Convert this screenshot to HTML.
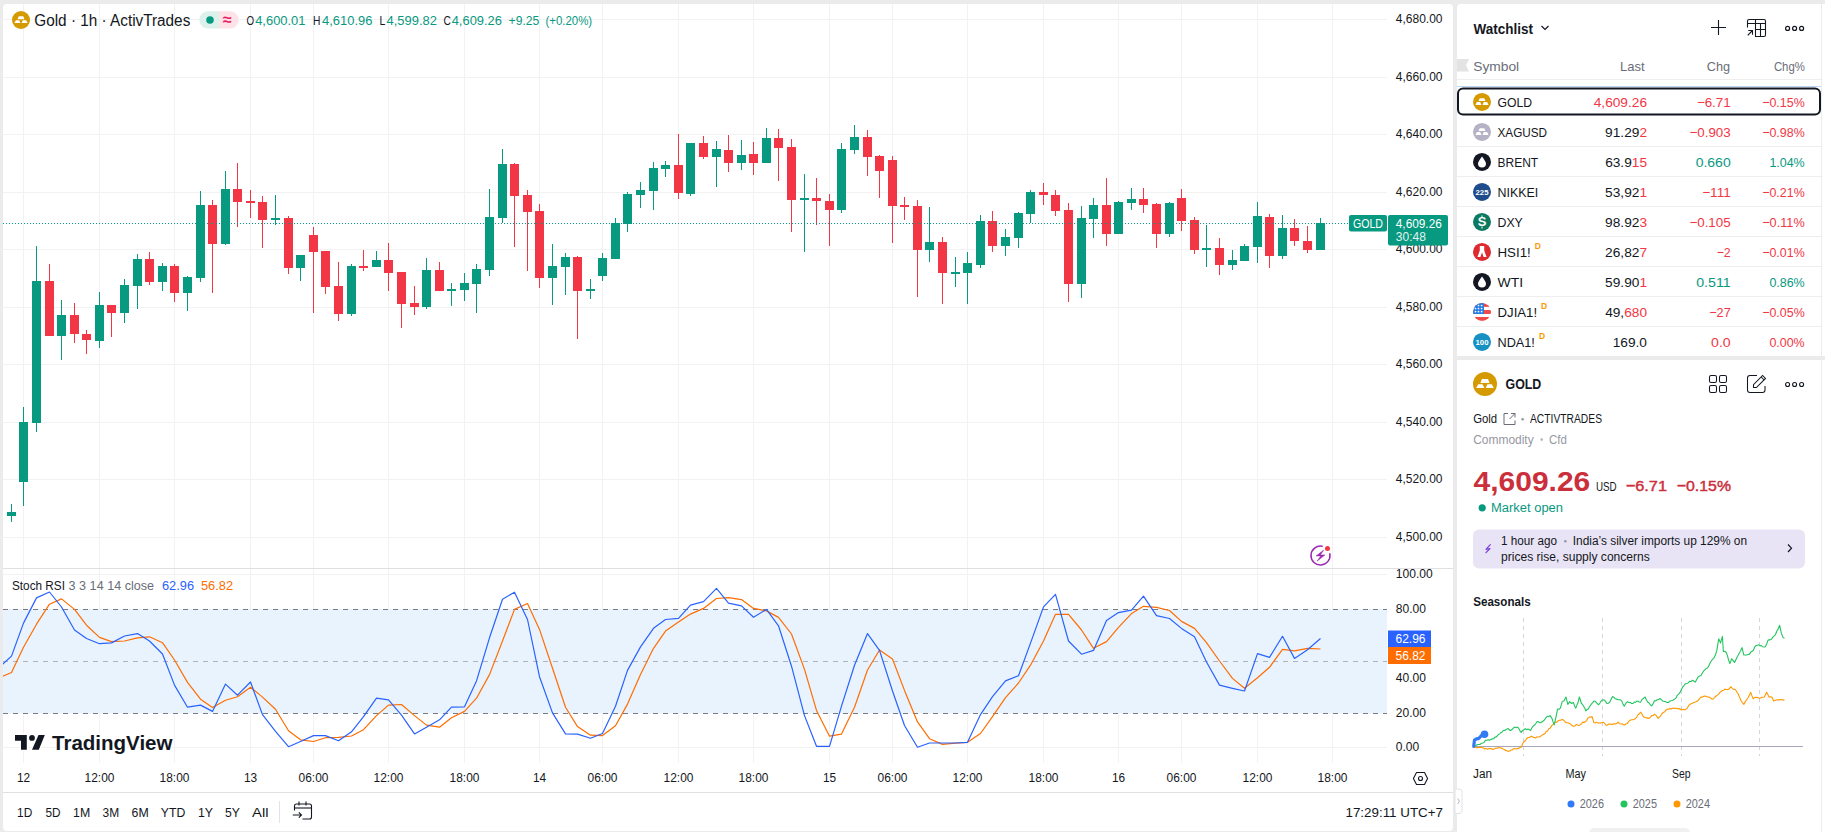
<!DOCTYPE html><html><head><meta charset="utf-8"><style>
html,body{margin:0;padding:0;}body{width:1825px;height:832px;overflow:hidden;background:#ebebeb;position:relative;font-family:"Liberation Sans", sans-serif;color:#131722}
.p{position:absolute;background:#fff}
svg{position:absolute;left:0;top:0}
text{font-family:"Liberation Sans", sans-serif}
</style></head><body>
<div class="p" style="left:3px;top:4px;width:1450px;height:827px;border-radius:4px"></div>
<div class="p" style="left:1457px;top:4px;width:368px;height:352px;border-radius:4px 0 0 0"></div>
<div class="p" style="left:1457px;top:360px;width:368px;height:480px"></div>
<svg width="1825" height="832" viewBox="0 0 1825 832">
<defs><clipPath id="cp"><rect x="3" y="4" width="1384" height="564"/></clipPath><clipPath id="cr"><rect x="3" y="569" width="1384" height="194"/></clipPath>
<symbol id="bars" viewBox="0 0 24 24"><path d="M9 7H15L16.6 10.9H7.4Z M5.2 12.2H9.6L11.3 16H3.2Z M14.4 12.2H18.8L20.8 16H12.7Z" fill="#fff"/></symbol>
</defs>
<line x1="23.5" y1="4" x2="23.5" y2="763" stroke="#f2f2f2" stroke-width="1"/>
<line x1="99.5" y1="4" x2="99.5" y2="763" stroke="#f2f2f2" stroke-width="1"/>
<line x1="174.5" y1="4" x2="174.5" y2="763" stroke="#f2f2f2" stroke-width="1"/>
<line x1="250.5" y1="4" x2="250.5" y2="763" stroke="#f2f2f2" stroke-width="1"/>
<line x1="313.5" y1="4" x2="313.5" y2="763" stroke="#f2f2f2" stroke-width="1"/>
<line x1="388.5" y1="4" x2="388.5" y2="763" stroke="#f2f2f2" stroke-width="1"/>
<line x1="464.5" y1="4" x2="464.5" y2="763" stroke="#f2f2f2" stroke-width="1"/>
<line x1="539.5" y1="4" x2="539.5" y2="763" stroke="#f2f2f2" stroke-width="1"/>
<line x1="602.5" y1="4" x2="602.5" y2="763" stroke="#f2f2f2" stroke-width="1"/>
<line x1="678.5" y1="4" x2="678.5" y2="763" stroke="#f2f2f2" stroke-width="1"/>
<line x1="753.5" y1="4" x2="753.5" y2="763" stroke="#f2f2f2" stroke-width="1"/>
<line x1="829.5" y1="4" x2="829.5" y2="763" stroke="#f2f2f2" stroke-width="1"/>
<line x1="892.5" y1="4" x2="892.5" y2="763" stroke="#f2f2f2" stroke-width="1"/>
<line x1="967.5" y1="4" x2="967.5" y2="763" stroke="#f2f2f2" stroke-width="1"/>
<line x1="1043.5" y1="4" x2="1043.5" y2="763" stroke="#f2f2f2" stroke-width="1"/>
<line x1="1118.5" y1="4" x2="1118.5" y2="763" stroke="#f2f2f2" stroke-width="1"/>
<line x1="1181.5" y1="4" x2="1181.5" y2="763" stroke="#f2f2f2" stroke-width="1"/>
<line x1="1257.5" y1="4" x2="1257.5" y2="763" stroke="#f2f2f2" stroke-width="1"/>
<line x1="1332.5" y1="4" x2="1332.5" y2="763" stroke="#f2f2f2" stroke-width="1"/>
<line x1="3" y1="19.5" x2="1387" y2="19.5" stroke="#f2f2f2"/>
<line x1="3" y1="77.5" x2="1387" y2="77.5" stroke="#f2f2f2"/>
<line x1="3" y1="134.5" x2="1387" y2="134.5" stroke="#f2f2f2"/>
<line x1="3" y1="192.5" x2="1387" y2="192.5" stroke="#f2f2f2"/>
<line x1="3" y1="249.5" x2="1387" y2="249.5" stroke="#f2f2f2"/>
<line x1="3" y1="307.5" x2="1387" y2="307.5" stroke="#f2f2f2"/>
<line x1="3" y1="364.5" x2="1387" y2="364.5" stroke="#f2f2f2"/>
<line x1="3" y1="422.5" x2="1387" y2="422.5" stroke="#f2f2f2"/>
<line x1="3" y1="479.5" x2="1387" y2="479.5" stroke="#f2f2f2"/>
<line x1="3" y1="537.5" x2="1387" y2="537.5" stroke="#f2f2f2"/>
<line x1="3" y1="574.5" x2="1387" y2="574.5" stroke="#f2f2f2"/>
<line x1="3" y1="644.5" x2="1387" y2="644.5" stroke="#f2f2f2"/>
<line x1="3" y1="678.5" x2="1387" y2="678.5" stroke="#f2f2f2"/>
<line x1="3" y1="747.5" x2="1387" y2="747.5" stroke="#f2f2f2"/>
<rect x="3" y="609" width="1384" height="104.5" fill="#e9f3fd"/>
<line x1="3" y1="609.5" x2="1387" y2="609.5" stroke="#787b86" stroke-dasharray="5 5"/>
<line x1="3" y1="713.5" x2="1387" y2="713.5" stroke="#787b86" stroke-dasharray="5 5"/>
<line x1="3" y1="661.5" x2="1387" y2="661.5" stroke="#b0b3bb" stroke-dasharray="5 5"/>
<line x1="3" y1="568.5" x2="1453" y2="568.5" stroke="#e0e0e0"/>
<line x1="3" y1="792.5" x2="1453" y2="792.5" stroke="#e0e0e0"/>
<g clip-path="url(#cp)">
<rect x="11" y="504" width="1" height="18" fill="#089981"/>
<rect x="7" y="512" width="9" height="4" fill="#089981"/>
<rect x="23" y="407" width="1" height="99" fill="#089981"/>
<rect x="19" y="422" width="9" height="60" fill="#089981"/>
<rect x="36" y="246" width="1" height="186" fill="#089981"/>
<rect x="32" y="281" width="9" height="142" fill="#089981"/>
<rect x="49" y="264" width="1" height="72" fill="#f23645"/>
<rect x="45" y="281" width="9" height="55" fill="#f23645"/>
<rect x="61" y="300" width="1" height="60" fill="#089981"/>
<rect x="57" y="315" width="9" height="21" fill="#089981"/>
<rect x="74" y="303" width="1" height="40" fill="#f23645"/>
<rect x="70" y="315" width="9" height="19" fill="#f23645"/>
<rect x="86" y="330" width="1" height="24" fill="#f23645"/>
<rect x="82" y="334" width="9" height="6" fill="#f23645"/>
<rect x="99" y="292" width="1" height="56" fill="#089981"/>
<rect x="95" y="305" width="9" height="36" fill="#089981"/>
<rect x="111" y="305" width="1" height="32" fill="#f23645"/>
<rect x="107" y="305" width="9" height="8" fill="#f23645"/>
<rect x="124" y="279" width="1" height="44" fill="#089981"/>
<rect x="120" y="285" width="9" height="28" fill="#089981"/>
<rect x="137" y="254" width="1" height="55" fill="#089981"/>
<rect x="133" y="259" width="9" height="27" fill="#089981"/>
<rect x="149" y="252" width="1" height="33" fill="#f23645"/>
<rect x="145" y="259" width="9" height="23" fill="#f23645"/>
<rect x="162" y="263" width="1" height="28" fill="#089981"/>
<rect x="158" y="266" width="9" height="16" fill="#089981"/>
<rect x="174" y="264" width="1" height="38" fill="#f23645"/>
<rect x="170" y="266" width="9" height="27" fill="#f23645"/>
<rect x="187" y="276" width="1" height="35" fill="#089981"/>
<rect x="183" y="277" width="9" height="16" fill="#089981"/>
<rect x="200" y="191" width="1" height="91" fill="#089981"/>
<rect x="196" y="205" width="9" height="73" fill="#089981"/>
<rect x="212" y="200" width="1" height="93" fill="#f23645"/>
<rect x="208" y="205" width="9" height="39" fill="#f23645"/>
<rect x="225" y="171" width="1" height="74" fill="#089981"/>
<rect x="221" y="189" width="9" height="55" fill="#089981"/>
<rect x="237" y="163" width="1" height="64" fill="#f23645"/>
<rect x="233" y="189" width="9" height="13" fill="#f23645"/>
<rect x="250" y="190" width="1" height="28" fill="#f23645"/>
<rect x="246" y="201" width="9" height="2" fill="#f23645"/>
<rect x="262" y="196" width="1" height="52" fill="#f23645"/>
<rect x="258" y="202" width="9" height="18" fill="#f23645"/>
<rect x="275" y="195" width="1" height="30" fill="#089981"/>
<rect x="271" y="218" width="9" height="2" fill="#089981"/>
<rect x="288" y="216" width="1" height="58" fill="#f23645"/>
<rect x="284" y="218" width="9" height="50" fill="#f23645"/>
<rect x="300" y="255" width="1" height="26" fill="#089981"/>
<rect x="296" y="255" width="9" height="13" fill="#089981"/>
<rect x="313" y="227" width="1" height="86" fill="#f23645"/>
<rect x="309" y="235" width="9" height="17" fill="#f23645"/>
<rect x="325" y="251" width="1" height="43" fill="#f23645"/>
<rect x="321" y="251" width="9" height="36" fill="#f23645"/>
<rect x="338" y="262" width="1" height="59" fill="#f23645"/>
<rect x="334" y="286" width="9" height="28" fill="#f23645"/>
<rect x="351" y="264" width="1" height="52" fill="#089981"/>
<rect x="347" y="266" width="9" height="48" fill="#089981"/>
<rect x="363" y="250" width="1" height="21" fill="#f23645"/>
<rect x="359" y="266" width="9" height="2" fill="#f23645"/>
<rect x="376" y="251" width="1" height="16" fill="#089981"/>
<rect x="372" y="260" width="9" height="7" fill="#089981"/>
<rect x="388" y="243" width="1" height="48" fill="#f23645"/>
<rect x="384" y="260" width="9" height="13" fill="#f23645"/>
<rect x="401" y="272" width="1" height="56" fill="#f23645"/>
<rect x="397" y="272" width="9" height="32" fill="#f23645"/>
<rect x="414" y="286" width="1" height="29" fill="#f23645"/>
<rect x="410" y="303" width="9" height="4" fill="#f23645"/>
<rect x="426" y="258" width="1" height="51" fill="#089981"/>
<rect x="422" y="270" width="9" height="37" fill="#089981"/>
<rect x="439" y="262" width="1" height="29" fill="#f23645"/>
<rect x="435" y="270" width="9" height="21" fill="#f23645"/>
<rect x="451" y="283" width="1" height="23" fill="#089981"/>
<rect x="447" y="289" width="9" height="2" fill="#089981"/>
<rect x="464" y="273" width="1" height="28" fill="#089981"/>
<rect x="460" y="283" width="9" height="7" fill="#089981"/>
<rect x="476" y="264" width="1" height="49" fill="#089981"/>
<rect x="472" y="269" width="9" height="15" fill="#089981"/>
<rect x="489" y="189" width="1" height="87" fill="#089981"/>
<rect x="485" y="217" width="9" height="53" fill="#089981"/>
<rect x="502" y="149" width="1" height="74" fill="#089981"/>
<rect x="498" y="164" width="9" height="54" fill="#089981"/>
<rect x="514" y="163" width="1" height="84" fill="#f23645"/>
<rect x="510" y="164" width="9" height="32" fill="#f23645"/>
<rect x="527" y="190" width="1" height="81" fill="#f23645"/>
<rect x="523" y="195" width="9" height="17" fill="#f23645"/>
<rect x="539" y="204" width="1" height="84" fill="#f23645"/>
<rect x="535" y="211" width="9" height="67" fill="#f23645"/>
<rect x="552" y="244" width="1" height="61" fill="#089981"/>
<rect x="548" y="266" width="9" height="12" fill="#089981"/>
<rect x="565" y="253" width="1" height="42" fill="#089981"/>
<rect x="561" y="257" width="9" height="10" fill="#089981"/>
<rect x="577" y="256" width="1" height="83" fill="#f23645"/>
<rect x="573" y="257" width="9" height="34" fill="#f23645"/>
<rect x="590" y="279" width="1" height="20" fill="#089981"/>
<rect x="586" y="289" width="9" height="2" fill="#089981"/>
<rect x="602" y="253" width="1" height="28" fill="#089981"/>
<rect x="598" y="258" width="9" height="18" fill="#089981"/>
<rect x="615" y="218" width="1" height="41" fill="#089981"/>
<rect x="611" y="223" width="9" height="36" fill="#089981"/>
<rect x="627" y="192" width="1" height="40" fill="#089981"/>
<rect x="623" y="194" width="9" height="30" fill="#089981"/>
<rect x="640" y="182" width="1" height="26" fill="#089981"/>
<rect x="636" y="190" width="9" height="5" fill="#089981"/>
<rect x="653" y="162" width="1" height="48" fill="#089981"/>
<rect x="649" y="168" width="9" height="23" fill="#089981"/>
<rect x="665" y="161" width="1" height="16" fill="#089981"/>
<rect x="661" y="165" width="9" height="4" fill="#089981"/>
<rect x="678" y="134" width="1" height="65" fill="#f23645"/>
<rect x="674" y="165" width="9" height="28" fill="#f23645"/>
<rect x="690" y="143" width="1" height="53" fill="#089981"/>
<rect x="686" y="143" width="9" height="51" fill="#089981"/>
<rect x="703" y="136" width="1" height="23" fill="#f23645"/>
<rect x="699" y="143" width="9" height="14" fill="#f23645"/>
<rect x="716" y="141" width="1" height="46" fill="#089981"/>
<rect x="712" y="149" width="9" height="8" fill="#089981"/>
<rect x="728" y="135" width="1" height="37" fill="#f23645"/>
<rect x="724" y="150" width="9" height="13" fill="#f23645"/>
<rect x="741" y="140" width="1" height="30" fill="#089981"/>
<rect x="737" y="155" width="9" height="8" fill="#089981"/>
<rect x="753" y="142" width="1" height="33" fill="#f23645"/>
<rect x="749" y="154" width="9" height="9" fill="#f23645"/>
<rect x="766" y="128" width="1" height="35" fill="#089981"/>
<rect x="762" y="138" width="9" height="25" fill="#089981"/>
<rect x="778" y="129" width="1" height="52" fill="#f23645"/>
<rect x="774" y="138" width="9" height="10" fill="#f23645"/>
<rect x="791" y="139" width="1" height="93" fill="#f23645"/>
<rect x="787" y="147" width="9" height="53" fill="#f23645"/>
<rect x="804" y="174" width="1" height="78" fill="#089981"/>
<rect x="800" y="198" width="9" height="2" fill="#089981"/>
<rect x="816" y="178" width="1" height="47" fill="#f23645"/>
<rect x="812" y="198" width="9" height="3" fill="#f23645"/>
<rect x="829" y="194" width="1" height="52" fill="#f23645"/>
<rect x="825" y="201" width="9" height="9" fill="#f23645"/>
<rect x="841" y="143" width="1" height="70" fill="#089981"/>
<rect x="837" y="149" width="9" height="61" fill="#089981"/>
<rect x="854" y="125" width="1" height="29" fill="#089981"/>
<rect x="850" y="137" width="9" height="13" fill="#089981"/>
<rect x="867" y="130" width="1" height="46" fill="#f23645"/>
<rect x="863" y="137" width="9" height="20" fill="#f23645"/>
<rect x="879" y="155" width="1" height="43" fill="#f23645"/>
<rect x="875" y="156" width="9" height="15" fill="#f23645"/>
<rect x="892" y="156" width="1" height="87" fill="#f23645"/>
<rect x="888" y="160" width="9" height="46" fill="#f23645"/>
<rect x="904" y="197" width="1" height="23" fill="#f23645"/>
<rect x="900" y="205" width="9" height="2" fill="#f23645"/>
<rect x="917" y="200" width="1" height="97" fill="#f23645"/>
<rect x="913" y="206" width="9" height="44" fill="#f23645"/>
<rect x="929" y="207" width="1" height="55" fill="#089981"/>
<rect x="925" y="242" width="9" height="8" fill="#089981"/>
<rect x="942" y="237" width="1" height="67" fill="#f23645"/>
<rect x="938" y="242" width="9" height="31" fill="#f23645"/>
<rect x="955" y="257" width="1" height="30" fill="#089981"/>
<rect x="951" y="272" width="9" height="2" fill="#089981"/>
<rect x="967" y="252" width="1" height="52" fill="#089981"/>
<rect x="963" y="263" width="9" height="10" fill="#089981"/>
<rect x="980" y="215" width="1" height="53" fill="#089981"/>
<rect x="976" y="221" width="9" height="44" fill="#089981"/>
<rect x="992" y="211" width="1" height="41" fill="#f23645"/>
<rect x="988" y="221" width="9" height="25" fill="#f23645"/>
<rect x="1005" y="229" width="1" height="27" fill="#089981"/>
<rect x="1001" y="237" width="9" height="9" fill="#089981"/>
<rect x="1018" y="212" width="1" height="36" fill="#089981"/>
<rect x="1014" y="213" width="9" height="25" fill="#089981"/>
<rect x="1030" y="190" width="1" height="33" fill="#089981"/>
<rect x="1026" y="192" width="9" height="22" fill="#089981"/>
<rect x="1043" y="183" width="1" height="22" fill="#f23645"/>
<rect x="1039" y="192" width="9" height="3" fill="#f23645"/>
<rect x="1055" y="190" width="1" height="26" fill="#f23645"/>
<rect x="1051" y="195" width="9" height="16" fill="#f23645"/>
<rect x="1068" y="203" width="1" height="99" fill="#f23645"/>
<rect x="1064" y="210" width="9" height="74" fill="#f23645"/>
<rect x="1081" y="206" width="1" height="92" fill="#089981"/>
<rect x="1077" y="218" width="9" height="66" fill="#089981"/>
<rect x="1093" y="198" width="1" height="40" fill="#089981"/>
<rect x="1089" y="205" width="9" height="14" fill="#089981"/>
<rect x="1106" y="178" width="1" height="68" fill="#f23645"/>
<rect x="1102" y="205" width="9" height="29" fill="#f23645"/>
<rect x="1118" y="201" width="1" height="33" fill="#089981"/>
<rect x="1114" y="202" width="9" height="32" fill="#089981"/>
<rect x="1131" y="188" width="1" height="22" fill="#089981"/>
<rect x="1127" y="199" width="9" height="4" fill="#089981"/>
<rect x="1143" y="188" width="1" height="25" fill="#f23645"/>
<rect x="1139" y="199" width="9" height="6" fill="#f23645"/>
<rect x="1156" y="203" width="1" height="45" fill="#f23645"/>
<rect x="1152" y="204" width="9" height="30" fill="#f23645"/>
<rect x="1169" y="202" width="1" height="35" fill="#089981"/>
<rect x="1165" y="203" width="9" height="31" fill="#089981"/>
<rect x="1181" y="189" width="1" height="42" fill="#f23645"/>
<rect x="1177" y="198" width="9" height="23" fill="#f23645"/>
<rect x="1194" y="217" width="1" height="37" fill="#f23645"/>
<rect x="1190" y="220" width="9" height="30" fill="#f23645"/>
<rect x="1206" y="225" width="1" height="42" fill="#089981"/>
<rect x="1202" y="248" width="9" height="2" fill="#089981"/>
<rect x="1219" y="238" width="1" height="37" fill="#f23645"/>
<rect x="1215" y="248" width="9" height="17" fill="#f23645"/>
<rect x="1232" y="250" width="1" height="20" fill="#089981"/>
<rect x="1228" y="260" width="9" height="5" fill="#089981"/>
<rect x="1244" y="244" width="1" height="17" fill="#089981"/>
<rect x="1240" y="246" width="9" height="15" fill="#089981"/>
<rect x="1257" y="202" width="1" height="61" fill="#089981"/>
<rect x="1253" y="216" width="9" height="31" fill="#089981"/>
<rect x="1269" y="214" width="1" height="54" fill="#f23645"/>
<rect x="1265" y="217" width="9" height="39" fill="#f23645"/>
<rect x="1282" y="215" width="1" height="44" fill="#089981"/>
<rect x="1278" y="228" width="9" height="28" fill="#089981"/>
<rect x="1294" y="219" width="1" height="27" fill="#f23645"/>
<rect x="1290" y="228" width="9" height="13" fill="#f23645"/>
<rect x="1307" y="226" width="1" height="27" fill="#f23645"/>
<rect x="1303" y="241" width="9" height="9" fill="#f23645"/>
<rect x="1320" y="218" width="1" height="32" fill="#089981"/>
<rect x="1316" y="223" width="9" height="27" fill="#089981"/>
</g>
<line x1="3" y1="223.5" x2="1349" y2="223.5" stroke="#089981" stroke-dasharray="1 2"/>
<g clip-path="url(#cr)" fill="none" stroke-width="1.2" stroke-linejoin="round">
<polyline points="-1.5,678.1 11.5,672.5 23.5,647.3 36.5,624.2 49.5,604.2 61.5,598.9 74.5,609.4 86.5,625.2 99.5,637.4 111.5,641.6 124.5,641.0 137.5,637.8 149.5,636.8 162.5,642.7 174.5,660.0 187.5,682.4 200.5,699.2 212.5,707.6 225.5,700.3 237.5,696.7 250.5,687.2 262.5,697.1 275.5,709.3 288.5,730.8 300.5,739.8 313.5,741.5 325.5,737.7 338.5,737.3 351.5,736.0 363.5,729.7 376.5,715.6 388.5,705.1 401.5,704.5 414.5,715.6 426.5,725.1 439.5,727.2 451.5,717.7 464.5,711.4 476.5,698.2 489.5,674.6 502.5,641.0 514.5,609.4 527.5,603.5 539.5,629.4 552.5,668.3 565.5,707.2 577.5,726.6 590.5,735.2 602.5,735.6 615.5,725.7 627.5,704.1 640.5,674.6 653.5,648.3 665.5,631.1 678.5,622.1 690.5,614.1 703.5,608.4 716.5,598.5 728.5,597.7 741.5,599.6 753.5,608.4 766.5,610.9 778.5,617.4 791.5,634.0 804.5,669.4 816.5,710.4 829.5,736.2 841.5,734.1 854.5,707.2 867.5,670.0 879.5,650.0 892.5,659.0 904.5,690.4 917.5,721.9 929.5,738.7 942.5,744.4 955.5,743.2 967.5,742.3 980.5,733.5 992.5,716.7 1005.5,697.7 1018.5,683.0 1030.5,665.2 1043.5,641.0 1055.5,614.3 1068.5,614.3 1081.5,630.0 1093.5,648.3 1106.5,641.6 1118.5,627.3 1131.5,613.6 1143.5,606.3 1156.5,607.3 1169.5,610.5 1181.5,621.4 1194.5,628.4 1206.5,642.7 1219.5,661.0 1232.5,678.4 1244.5,688.3 1257.5,677.8 1269.5,667.3 1282.5,649.4 1294.5,650.9 1307.5,648.3 1320.5,649.0" stroke="#ff6d00"/>
<polyline points="-1.5,668.0 11.5,656.1 23.5,623.1 36.5,597.9 49.5,592.0 61.5,607.0 74.5,630.0 86.5,638.5 99.5,643.7 111.5,642.9 124.5,636.0 137.5,633.6 149.5,641.0 162.5,654.0 174.5,685.1 187.5,707.2 200.5,705.1 212.5,711.4 225.5,684.1 237.5,695.2 250.5,682.0 262.5,714.6 275.5,731.4 288.5,746.7 300.5,741.5 313.5,735.6 325.5,735.6 338.5,740.8 351.5,731.8 363.5,716.7 376.5,698.2 388.5,699.8 401.5,715.2 414.5,733.9 426.5,727.2 439.5,719.8 451.5,707.2 464.5,706.8 476.5,680.9 489.5,637.8 502.5,599.3 514.5,592.2 527.5,619.5 539.5,676.7 552.5,712.9 565.5,733.9 577.5,734.1 590.5,738.3 602.5,733.5 615.5,706.2 627.5,670.4 640.5,646.9 653.5,628.3 665.5,619.5 678.5,618.3 690.5,605.2 703.5,601.7 716.5,588.4 728.5,603.1 741.5,605.9 753.5,617.2 766.5,609.4 778.5,625.8 791.5,666.2 804.5,715.6 816.5,746.3 829.5,746.3 841.5,706.2 854.5,665.2 867.5,633.6 879.5,650.4 892.5,691.0 904.5,725.5 917.5,747.2 929.5,743.0 942.5,743.0 955.5,743.0 967.5,742.3 980.5,714.6 992.5,696.7 1005.5,680.9 1018.5,675.7 1030.5,643.1 1043.5,606.9 1055.5,594.3 1068.5,641.0 1081.5,654.2 1093.5,650.4 1106.5,620.6 1118.5,612.6 1131.5,610.1 1143.5,596.2 1156.5,615.7 1169.5,618.5 1181.5,628.4 1194.5,636.8 1206.5,662.0 1219.5,685.1 1232.5,688.3 1244.5,691.0 1257.5,653.6 1269.5,657.4 1282.5,636.3 1294.5,658.4 1307.5,649.8 1320.5,638.5" stroke="#2962ff"/>
</g>
<text x="1395.8" y="22.8" font-size="12.4" fill="#131722" textLength="46.7" lengthAdjust="spacingAndGlyphs">4,680.00</text>
<text x="1395.8" y="80.8" font-size="12.4" fill="#131722" textLength="46.7" lengthAdjust="spacingAndGlyphs">4,660.00</text>
<text x="1395.8" y="137.8" font-size="12.4" fill="#131722" textLength="46.7" lengthAdjust="spacingAndGlyphs">4,640.00</text>
<text x="1395.8" y="195.8" font-size="12.4" fill="#131722" textLength="46.7" lengthAdjust="spacingAndGlyphs">4,620.00</text>
<text x="1395.8" y="252.8" font-size="12.4" fill="#131722" textLength="46.7" lengthAdjust="spacingAndGlyphs">4,600.00</text>
<text x="1395.8" y="310.8" font-size="12.4" fill="#131722" textLength="46.7" lengthAdjust="spacingAndGlyphs">4,580.00</text>
<text x="1395.8" y="367.8" font-size="12.4" fill="#131722" textLength="46.7" lengthAdjust="spacingAndGlyphs">4,560.00</text>
<text x="1395.8" y="425.8" font-size="12.4" fill="#131722" textLength="46.7" lengthAdjust="spacingAndGlyphs">4,540.00</text>
<text x="1395.8" y="482.8" font-size="12.4" fill="#131722" textLength="46.7" lengthAdjust="spacingAndGlyphs">4,520.00</text>
<text x="1395.8" y="540.8" font-size="12.4" fill="#131722" textLength="46.7" lengthAdjust="spacingAndGlyphs">4,500.00</text>
<text x="1395.8" y="577.8" font-size="12.4" fill="#131722" textLength="36.9" lengthAdjust="spacingAndGlyphs">100.00</text>
<text x="1395.8" y="612.8" font-size="12.4" fill="#131722" textLength="30.1" lengthAdjust="spacingAndGlyphs">80.00</text>
<text x="1395.8" y="681.8" font-size="12.4" fill="#131722" textLength="30.1" lengthAdjust="spacingAndGlyphs">40.00</text>
<text x="1395.8" y="716.8" font-size="12.4" fill="#131722" textLength="30.1" lengthAdjust="spacingAndGlyphs">20.00</text>
<text x="1395.8" y="750.8" font-size="12.4" fill="#131722" textLength="23.4" lengthAdjust="spacingAndGlyphs">0.00</text>
<rect x="1388" y="630.5" width="43" height="16.5" fill="#2962ff"/>
<text x="1395.5" y="642.8" font-size="12" fill="#fff">62.96</text>
<rect x="1388" y="647" width="43" height="17" fill="#ff6d00"/>
<text x="1395.5" y="659.6" font-size="12" fill="#fff">56.82</text>
<rect x="1349" y="215" width="38" height="16.6" rx="2" fill="#089981"/>
<text x="1353.0" y="227.6" font-size="12" fill="#fff" textLength="30.0" lengthAdjust="spacingAndGlyphs">GOLD</text>
<rect x="1388" y="215" width="60" height="30.6" rx="2" fill="#089981"/>
<text x="1395.8" y="227.6" font-size="12" fill="#fff" textLength="46.0" lengthAdjust="spacingAndGlyphs">4,609.26</text>
<text x="1395.8" y="241.0" font-size="12" fill="#e3f3ef">30:48</text>
<text x="23.5" y="782.0" font-size="12.5" fill="#131722" text-anchor="middle" textLength="13.2" lengthAdjust="spacingAndGlyphs">12</text>
<text x="99.5" y="782.0" font-size="12.5" fill="#131722" text-anchor="middle" textLength="29.8" lengthAdjust="spacingAndGlyphs">12:00</text>
<text x="174.5" y="782.0" font-size="12.5" fill="#131722" text-anchor="middle" textLength="29.8" lengthAdjust="spacingAndGlyphs">18:00</text>
<text x="250.5" y="782.0" font-size="12.5" fill="#131722" text-anchor="middle" textLength="13.2" lengthAdjust="spacingAndGlyphs">13</text>
<text x="313.5" y="782.0" font-size="12.5" fill="#131722" text-anchor="middle" textLength="29.8" lengthAdjust="spacingAndGlyphs">06:00</text>
<text x="388.5" y="782.0" font-size="12.5" fill="#131722" text-anchor="middle" textLength="29.8" lengthAdjust="spacingAndGlyphs">12:00</text>
<text x="464.5" y="782.0" font-size="12.5" fill="#131722" text-anchor="middle" textLength="29.8" lengthAdjust="spacingAndGlyphs">18:00</text>
<text x="539.5" y="782.0" font-size="12.5" fill="#131722" text-anchor="middle" textLength="13.2" lengthAdjust="spacingAndGlyphs">14</text>
<text x="602.5" y="782.0" font-size="12.5" fill="#131722" text-anchor="middle" textLength="29.8" lengthAdjust="spacingAndGlyphs">06:00</text>
<text x="678.5" y="782.0" font-size="12.5" fill="#131722" text-anchor="middle" textLength="29.8" lengthAdjust="spacingAndGlyphs">12:00</text>
<text x="753.5" y="782.0" font-size="12.5" fill="#131722" text-anchor="middle" textLength="29.8" lengthAdjust="spacingAndGlyphs">18:00</text>
<text x="829.5" y="782.0" font-size="12.5" fill="#131722" text-anchor="middle" textLength="13.2" lengthAdjust="spacingAndGlyphs">15</text>
<text x="892.5" y="782.0" font-size="12.5" fill="#131722" text-anchor="middle" textLength="29.8" lengthAdjust="spacingAndGlyphs">06:00</text>
<text x="967.5" y="782.0" font-size="12.5" fill="#131722" text-anchor="middle" textLength="29.8" lengthAdjust="spacingAndGlyphs">12:00</text>
<text x="1043.5" y="782.0" font-size="12.5" fill="#131722" text-anchor="middle" textLength="29.8" lengthAdjust="spacingAndGlyphs">18:00</text>
<text x="1118.5" y="782.0" font-size="12.5" fill="#131722" text-anchor="middle" textLength="13.2" lengthAdjust="spacingAndGlyphs">16</text>
<text x="1181.5" y="782.0" font-size="12.5" fill="#131722" text-anchor="middle" textLength="29.8" lengthAdjust="spacingAndGlyphs">06:00</text>
<text x="1257.5" y="782.0" font-size="12.5" fill="#131722" text-anchor="middle" textLength="29.8" lengthAdjust="spacingAndGlyphs">12:00</text>
<text x="1332.5" y="782.0" font-size="12.5" fill="#131722" text-anchor="middle" textLength="29.8" lengthAdjust="spacingAndGlyphs">18:00</text>
<path d="M1416.5 772.5H1424.5L1427.6 778.5L1424.5 784.5H1416.5L1413.4 778.5Z" fill="none" stroke="#131722" stroke-width="1.1" stroke-linejoin="round"/>
<circle cx="1420.5" cy="778.5" r="2" fill="none" stroke="#131722" stroke-width="1.1"/>
<path d="M1329.86 553.85A9.5 9.5 0 1 1 1322.15 546.14" fill="none" stroke="#9c27b0" stroke-width="1.5" stroke-linecap="round"/>
<path d="M1323.6 550.2L1316.2 555.9L1320.9 555.9L1317.2 561L1324.8 555L1320.2 555Z" fill="#9c27b0" stroke="#9c27b0" stroke-width="0.6" stroke-linejoin="round"/>
<circle cx="1327.5" cy="548.5" r="2.5" fill="#f23645"/>
<circle cx="21" cy="20" r="9" fill="#d49a00"/><use href="#bars" x="12" y="11" width="18" height="18"/>
<text x="34.3" y="25.8" font-size="16" fill="#131722" textLength="156.0" lengthAdjust="spacingAndGlyphs">Gold · 1h · ActivTrades</text>
<path d="M208 11.3H219V28.6H208A8.65 8.65 0 0 1 208 11.3Z" fill="#dcf1ec"/>
<path d="M219 11.3H230A8.65 8.65 0 0 1 230 28.6H219Z" fill="#fde2e8"/>
<circle cx="210" cy="20" r="3.8" fill="#089981"/>
<text x="227.5" y="25.0" font-size="16" fill="#e91e63" font-weight="bold" text-anchor="middle">≈</text>
<text x="246.6" y="24.7" font-size="13" fill="#131722" textLength="7.6" lengthAdjust="spacingAndGlyphs">O</text>
<text x="255.2" y="24.7" font-size="13" fill="#089981" textLength="50.3" lengthAdjust="spacingAndGlyphs">4,600.01</text>
<text x="313.1" y="24.7" font-size="13" fill="#131722" textLength="7.4" lengthAdjust="spacingAndGlyphs">H</text>
<text x="322.1" y="24.7" font-size="13" fill="#089981" textLength="50.3" lengthAdjust="spacingAndGlyphs">4,610.96</text>
<text x="379.4" y="24.7" font-size="13" fill="#131722" textLength="5.8" lengthAdjust="spacingAndGlyphs">L</text>
<text x="386.6" y="24.7" font-size="13" fill="#089981" textLength="50.3" lengthAdjust="spacingAndGlyphs">4,599.82</text>
<text x="443.4" y="24.7" font-size="13" fill="#131722" textLength="7.4" lengthAdjust="spacingAndGlyphs">C</text>
<text x="451.7" y="24.7" font-size="13" fill="#089981" textLength="50.3" lengthAdjust="spacingAndGlyphs">4,609.26</text>
<text x="508.6" y="24.7" font-size="13" fill="#089981" textLength="30.8" lengthAdjust="spacingAndGlyphs">+9.25</text>
<text x="545.4" y="24.7" font-size="13" fill="#089981" textLength="46.8" lengthAdjust="spacingAndGlyphs">(+0.20%)</text>
<text x="12.0" y="590.0" font-size="12.5" fill="#131722" textLength="53.0" lengthAdjust="spacingAndGlyphs">Stoch RSI</text>
<text x="68.6" y="590.0" font-size="12.5" fill="#6a6d78" textLength="85.5" lengthAdjust="spacingAndGlyphs">3 3 14 14 close</text>
<text x="162.0" y="590.0" font-size="12.5" fill="#2962ff" textLength="32.0" lengthAdjust="spacingAndGlyphs">62.96</text>
<text x="201.0" y="590.0" font-size="12.5" fill="#ff6d00" textLength="32.0" lengthAdjust="spacingAndGlyphs">56.82</text>
<g fill="#131722" stroke="#fff" stroke-width="3" paint-order="stroke"><path d="M15 735H26.8V749.8H21V740.8H15Z"/><circle cx="32" cy="737.9" r="2.9"/><path d="M38.5 735H44.8L38.8 749.8H32Z"/></g>
<text x="52" y="749.8" font-size="21" font-weight="bold" fill="#131722" stroke="#fff" stroke-width="3" paint-order="stroke" stroke-linejoin="round" textLength="120.5" lengthAdjust="spacingAndGlyphs">TradingView</text>
<text x="17.1" y="817.0" font-size="13" fill="#131722" textLength="15.2" lengthAdjust="spacingAndGlyphs">1D</text>
<text x="45.4" y="817.0" font-size="13" fill="#131722" textLength="15.1" lengthAdjust="spacingAndGlyphs">5D</text>
<text x="73.1" y="817.0" font-size="13" fill="#131722" textLength="17.1" lengthAdjust="spacingAndGlyphs">1M</text>
<text x="102.6" y="817.0" font-size="13" fill="#131722" textLength="16.6" lengthAdjust="spacingAndGlyphs">3M</text>
<text x="131.6" y="817.0" font-size="13" fill="#131722" textLength="17.1" lengthAdjust="spacingAndGlyphs">6M</text>
<text x="160.8" y="817.0" font-size="13" fill="#131722" textLength="24.5" lengthAdjust="spacingAndGlyphs">YTD</text>
<text x="197.9" y="817.0" font-size="13" fill="#131722" textLength="15.1" lengthAdjust="spacingAndGlyphs">1Y</text>
<text x="225.1" y="817.0" font-size="13" fill="#131722" textLength="14.9" lengthAdjust="spacingAndGlyphs">5Y</text>
<text x="252.0" y="817.0" font-size="13" fill="#131722" textLength="16.5" lengthAdjust="spacingAndGlyphs">All</text>
<line x1="279.5" y1="801" x2="279.5" y2="823" stroke="#e0e3eb"/>
<g fill="none" stroke="#131722" stroke-width="1.1"><path d="M294.5 810.5V806A2 2 0 0 1 296.5 804H309.5A2 2 0 0 1 311.5 806V817A2 2 0 0 1 309.5 819H302.5"/><path d="M294.5 808H311.5"/><path d="M299 801.5V805.5M306 801.5V805.5"/><path d="M292.8 815H301.5M298.8 812.3L301.5 815L298.8 817.7"/></g>
<text x="1443.0" y="816.5" font-size="13" fill="#131722" text-anchor="end" textLength="97.5" lengthAdjust="spacingAndGlyphs">17:29:11 UTC+7</text>
<text x="1473.6" y="33.5" font-size="15" fill="#131722" font-weight="bold" textLength="59.4" lengthAdjust="spacingAndGlyphs">Watchlist</text>
<path d="M1541.5 26L1545 29.5L1548.5 26" fill="none" stroke="#131722" stroke-width="1.2"/>
<path d="M1718.5 20V35M1711 27.5H1726" stroke="#131722" stroke-width="1.1"/>
<g fill="none" stroke="#131722" stroke-width="1.1"><path d="M1747.5 27.6V21A1.5 1.5 0 0 1 1749 19.5H1764A1.5 1.5 0 0 1 1765.5 21V35A1.5 1.5 0 0 1 1764 36.5H1755.5V19.5M1747.5 23.5H1765.5M1760.5 23.5V36.5M1755.5 29.5H1765.5"/><path d="M1747.7 35.3L1752.5 30.5M1748.3 30.5H1752.5V34.7"/></g>
<circle cx="1787.6" cy="28.4" r="2" fill="none" stroke="#131722" stroke-width="1.2"/>
<circle cx="1794.6" cy="28.4" r="2" fill="none" stroke="#131722" stroke-width="1.2"/>
<circle cx="1801.6" cy="28.4" r="2" fill="none" stroke="#131722" stroke-width="1.2"/>
<line x1="1821.5" y1="4" x2="1821.5" y2="832" stroke="#ececec"/>
<path d="M1457 59H1469L1466 65.3L1469 71.6H1457Z" fill="#e3e3e3"/>
<text x="1473.2" y="70.5" font-size="13.5" fill="#6a6d78" textLength="46.0" lengthAdjust="spacingAndGlyphs">Symbol</text>
<text x="1644.6" y="70.5" font-size="13.5" fill="#6a6d78" text-anchor="end" textLength="24.6" lengthAdjust="spacingAndGlyphs">Last</text>
<text x="1730.0" y="70.5" font-size="13.5" fill="#6a6d78" text-anchor="end" textLength="23.2" lengthAdjust="spacingAndGlyphs">Chg</text>
<text x="1804.9" y="70.5" font-size="13.5" fill="#6a6d78" text-anchor="end" textLength="31.0" lengthAdjust="spacingAndGlyphs">Chg%</text>
<line x1="1457" y1="79.5" x2="1821" y2="79.5" stroke="#eeeeee"/>
<line x1="1457" y1="86.5" x2="1821" y2="86.5" stroke="#bcd6f5"/>
<line x1="1457" y1="146.5" x2="1821" y2="146.5" stroke="#eeeeee"/>
<line x1="1457" y1="176.5" x2="1821" y2="176.5" stroke="#eeeeee"/>
<line x1="1457" y1="206.5" x2="1821" y2="206.5" stroke="#eeeeee"/>
<line x1="1457" y1="236.5" x2="1821" y2="236.5" stroke="#eeeeee"/>
<line x1="1457" y1="266.5" x2="1821" y2="266.5" stroke="#eeeeee"/>
<line x1="1457" y1="296.5" x2="1821" y2="296.5" stroke="#eeeeee"/>
<line x1="1457" y1="326.5" x2="1821" y2="326.5" stroke="#eeeeee"/>
<rect x="1458" y="88.5" width="362" height="26" rx="5" fill="none" stroke="#131722" stroke-width="2"/>
<circle cx="1482.0" cy="101.9" r="9" fill="#d49a00"/><use href="#bars" x="1473.0" y="92.9" width="18" height="18"/>
<text x="1497.5" y="106.8" font-size="13.7" fill="#131722" textLength="34.6" lengthAdjust="spacingAndGlyphs">GOLD</text>
<text x="1647" y="106.8" font-size="13.7" text-anchor="end"><tspan fill="#f23645">4,609.26</tspan></text>
<text x="1730.7" y="106.8" font-size="13.7" fill="#f23645" text-anchor="end" textLength="33.8" lengthAdjust="spacingAndGlyphs">−6.71</text>
<text x="1804.7" y="106.8" font-size="13.7" fill="#f23645" text-anchor="end" textLength="42.5" lengthAdjust="spacingAndGlyphs">−0.15%</text>
<circle cx="1482.0" cy="131.9" r="9" fill="#b4b2c4"/><use href="#bars" x="1473.0" y="122.9" width="18" height="18"/>
<text x="1497.5" y="136.8" font-size="13.7" fill="#131722" textLength="49.5" lengthAdjust="spacingAndGlyphs">XAGUSD</text>
<text x="1647" y="136.8" font-size="13.7" text-anchor="end"><tspan fill="#131722">91.29</tspan><tspan fill="#f23645">2</tspan></text>
<text x="1730.7" y="136.8" font-size="13.7" fill="#f23645" text-anchor="end" textLength="41.2" lengthAdjust="spacingAndGlyphs">−0.903</text>
<text x="1804.7" y="136.8" font-size="13.7" fill="#f23645" text-anchor="end" textLength="42.5" lengthAdjust="spacingAndGlyphs">−0.98%</text>
<circle cx="1482.0" cy="161.9" r="9" fill="#131722"/><path d="M1482.0 156.4C1483.5 158.9 1486.0 161.4 1486.0 163.4A4 4 0 0 1 1478.0 163.4C1478.0 161.4 1480.5 158.9 1482.0 156.4Z" fill="#fff"/>
<text x="1497.5" y="166.8" font-size="13.7" fill="#131722" textLength="40.6" lengthAdjust="spacingAndGlyphs">BRENT</text>
<text x="1647" y="166.8" font-size="13.7" text-anchor="end"><tspan fill="#131722">63.9</tspan><tspan fill="#f23645">15</tspan></text>
<text x="1730.7" y="166.8" font-size="13.7" fill="#089981" text-anchor="end" textLength="35.0" lengthAdjust="spacingAndGlyphs">0.660</text>
<text x="1804.7" y="166.8" font-size="13.7" fill="#089981" text-anchor="end" textLength="35.3" lengthAdjust="spacingAndGlyphs">1.04%</text>
<circle cx="1482.0" cy="191.9" r="9" fill="#1f4c8a"/>
<text x="1482.0" y="194.6" font-size="7.5" fill="#fff" font-weight="bold" text-anchor="middle" textLength="13.0" lengthAdjust="spacingAndGlyphs">225</text>
<text x="1497.5" y="196.8" font-size="13.7" fill="#131722" textLength="40.8" lengthAdjust="spacingAndGlyphs">NIKKEI</text>
<text x="1647" y="196.8" font-size="13.7" text-anchor="end"><tspan fill="#131722">53,92</tspan><tspan fill="#f23645">1</tspan></text>
<text x="1730.7" y="196.8" font-size="13.7" fill="#f23645" text-anchor="end" textLength="28.5" lengthAdjust="spacingAndGlyphs">−111</text>
<text x="1804.7" y="196.8" font-size="13.7" fill="#f23645" text-anchor="end" textLength="42.5" lengthAdjust="spacingAndGlyphs">−0.21%</text>
<circle cx="1482.0" cy="221.9" r="9" fill="#0b7a5f"/>
<text x="1482.0" y="226.4" font-size="13" fill="#fff" font-weight="bold" text-anchor="middle">S</text>
<path d="M1482.0 215.4V217.4M1482.0 226.4V228.4" stroke="#fff" stroke-width="1.1"/>
<text x="1497.5" y="226.8" font-size="13.7" fill="#131722" textLength="25.3" lengthAdjust="spacingAndGlyphs">DXY</text>
<text x="1647" y="226.8" font-size="13.7" text-anchor="end"><tspan fill="#131722">98.92</tspan><tspan fill="#f23645">3</tspan></text>
<text x="1730.7" y="226.8" font-size="13.7" fill="#f23645" text-anchor="end" textLength="41.3" lengthAdjust="spacingAndGlyphs">−0.105</text>
<text x="1804.7" y="226.8" font-size="13.7" fill="#f23645" text-anchor="end" textLength="42.5" lengthAdjust="spacingAndGlyphs">−0.11%</text>
<circle cx="1482.0" cy="251.9" r="9" fill="#dc2a2f"/><path transform="translate(1482.0 251.9)" d="M-2.2 -6H2.2V-1.5L4.5 5H1.6L0 0.5L-1.6 5H-4.5L-2.2 -1.5Z" fill="#fff"/>
<text x="1497.5" y="256.8" font-size="13.7" fill="#131722" textLength="33.3" lengthAdjust="spacingAndGlyphs">HSI1!</text>
<text x="1534.8" y="249.3" font-size="9.5" fill="#ff9800" font-weight="bold" textLength="6.2" lengthAdjust="spacingAndGlyphs">D</text>
<text x="1647" y="256.8" font-size="13.7" text-anchor="end"><tspan fill="#131722">26,82</tspan><tspan fill="#f23645">7</tspan></text>
<text x="1730.7" y="256.8" font-size="13.7" fill="#f23645" text-anchor="end" textLength="14.0" lengthAdjust="spacingAndGlyphs">−2</text>
<text x="1804.7" y="256.8" font-size="13.7" fill="#f23645" text-anchor="end" textLength="42.5" lengthAdjust="spacingAndGlyphs">−0.01%</text>
<circle cx="1482.0" cy="281.9" r="9" fill="#131722"/><path d="M1482.0 276.4C1483.5 278.9 1486.0 281.4 1486.0 283.4A4 4 0 0 1 1478.0 283.4C1478.0 281.4 1480.5 278.9 1482.0 276.4Z" fill="#fff"/>
<text x="1497.5" y="286.8" font-size="13.7" fill="#131722" textLength="25.6" lengthAdjust="spacingAndGlyphs">WTI</text>
<text x="1647" y="286.8" font-size="13.7" text-anchor="end"><tspan fill="#131722">59.90</tspan><tspan fill="#f23645">1</tspan></text>
<text x="1730.7" y="286.8" font-size="13.7" fill="#089981" text-anchor="end" textLength="34.5" lengthAdjust="spacingAndGlyphs">0.511</text>
<text x="1804.7" y="286.8" font-size="13.7" fill="#089981" text-anchor="end" textLength="35.3" lengthAdjust="spacingAndGlyphs">0.86%</text>
<clipPath id="fl"><circle cx="1482.0" cy="311.9" r="9"/></clipPath><g clip-path="url(#fl)"><rect x="1473.0" y="302.9" width="18" height="18" fill="#fff"/>
<rect x="1473.0" y="302.9" width="18" height="4.0" fill="#ef4a4a"/>
<rect x="1473.0" y="310.0" width="18" height="4.0" fill="#ef4a4a"/>
<rect x="1473.0" y="317.0" width="18" height="3.9" fill="#ef4a4a"/>
<rect x="1473.0" y="302.9" width="11" height="11.1" fill="#2a7ee3"/>
<circle cx="1478.5" cy="305.5" r="0.85" fill="#fff"/>
<circle cx="1481.6" cy="305.5" r="0.85" fill="#fff"/>
<circle cx="1475.5" cy="308.5" r="0.85" fill="#fff"/>
<circle cx="1478.5" cy="308.5" r="0.85" fill="#fff"/>
<circle cx="1481.6" cy="308.5" r="0.85" fill="#fff"/>
<circle cx="1475.5" cy="311.6" r="0.85" fill="#fff"/>
<circle cx="1478.5" cy="311.6" r="0.85" fill="#fff"/>
<circle cx="1481.6" cy="311.6" r="0.85" fill="#fff"/>
</g>
<text x="1497.5" y="316.8" font-size="13.7" fill="#131722" textLength="39.6" lengthAdjust="spacingAndGlyphs">DJIA1!</text>
<text x="1541.1" y="309.3" font-size="9.5" fill="#ff9800" font-weight="bold" textLength="6.2" lengthAdjust="spacingAndGlyphs">D</text>
<text x="1647" y="316.8" font-size="13.7" text-anchor="end"><tspan fill="#131722">49,</tspan><tspan fill="#f23645">680</tspan></text>
<text x="1730.7" y="316.8" font-size="13.7" fill="#f23645" text-anchor="end" textLength="21.5" lengthAdjust="spacingAndGlyphs">−27</text>
<text x="1804.7" y="316.8" font-size="13.7" fill="#f23645" text-anchor="end" textLength="42.5" lengthAdjust="spacingAndGlyphs">−0.05%</text>
<circle cx="1482.0" cy="341.9" r="9" fill="#1791c1"/>
<text x="1482.0" y="344.6" font-size="7.5" fill="#fff" font-weight="bold" text-anchor="middle" textLength="13.0" lengthAdjust="spacingAndGlyphs">100</text>
<text x="1497.5" y="346.8" font-size="13.7" fill="#131722" textLength="37.4" lengthAdjust="spacingAndGlyphs">NDA1!</text>
<text x="1538.9" y="339.3" font-size="9.5" fill="#ff9800" font-weight="bold" textLength="6.2" lengthAdjust="spacingAndGlyphs">D</text>
<text x="1647" y="346.8" font-size="13.7" text-anchor="end"><tspan fill="#131722">169.0</tspan></text>
<text x="1730.7" y="346.8" font-size="13.7" fill="#f23645" text-anchor="end" textLength="19.6" lengthAdjust="spacingAndGlyphs">0.0</text>
<text x="1804.7" y="346.8" font-size="13.7" fill="#f23645" text-anchor="end" textLength="35.3" lengthAdjust="spacingAndGlyphs">0.00%</text>
<circle cx="1485" cy="384" r="12" fill="#d49a00"/><use href="#bars" x="1473" y="372" width="24" height="24"/>
<text x="1505.5" y="389.0" font-size="14" fill="#131722" font-weight="bold" textLength="35.8" lengthAdjust="spacingAndGlyphs">GOLD</text>
<g fill="none" stroke="#131722" stroke-width="1.05">
<rect x="1709.5" y="375.5" width="7" height="7" rx="1.6"/>
<rect x="1709.5" y="385.5" width="7" height="7" rx="1.6"/>
<rect x="1719.5" y="375.5" width="7" height="7" rx="1.6"/>
<rect x="1719.5" y="385.5" width="7" height="7" rx="1.6"/>
<path d="M1757 375.5H1750A2.5 2.5 0 0 0 1747.5 378V390A2.5 2.5 0 0 0 1750 392.5H1762.5A2.5 2.5 0 0 0 1765 390V386"/><path d="M1753.5 387.5V384.6L1762.6 375.5L1765.5 378.4L1756.4 387.5Z M1761.2 377L1764 379.8"/>
</g>
<circle cx="1787.6" cy="384.5" r="2" fill="none" stroke="#131722" stroke-width="1.1"/>
<circle cx="1794.6" cy="384.5" r="2" fill="none" stroke="#131722" stroke-width="1.1"/>
<circle cx="1801.6" cy="384.5" r="2" fill="none" stroke="#131722" stroke-width="1.1"/>
<text x="1473.2" y="423.0" font-size="12.5" fill="#131722" textLength="24.0" lengthAdjust="spacingAndGlyphs">Gold</text>
<g fill="none" stroke="#6a6d78" stroke-width="1"><path d="M1508 413.5H1504V424.5H1515V420.5"/><path d="M1509.5 419L1515 413.5M1511 413.5H1515V417.5"/></g>
<circle cx="1522.6" cy="419.2" r="1.3" fill="#9598a1"/>
<text x="1530.0" y="423.0" font-size="12.5" fill="#131722" textLength="72.0" lengthAdjust="spacingAndGlyphs">ACTIVTRADES</text>
<text x="1473.2" y="443.8" font-size="12.5" fill="#9598a1" textLength="60.5" lengthAdjust="spacingAndGlyphs">Commodity</text>
<circle cx="1541.7" cy="439.6" r="1.3" fill="#b2b5be"/>
<text x="1549.0" y="443.8" font-size="12.5" fill="#9598a1" textLength="17.8" lengthAdjust="spacingAndGlyphs">Cfd</text>
<text x="1473.6" y="490.7" font-size="27" fill="#cc2f3c" font-weight="bold" textLength="116.7" lengthAdjust="spacingAndGlyphs">4,609.26</text>
<text x="1596.0" y="490.5" font-size="12.5" fill="#131722" textLength="20.7" lengthAdjust="spacingAndGlyphs">USD</text>
<text x="1625.7" y="490.7" font-size="15.5" fill="#cc2f3c" stroke="#cc2f3c" stroke-width="0.45" textLength="41.3" lengthAdjust="spacingAndGlyphs">−6.71</text>
<text x="1676.8" y="490.7" font-size="15.5" fill="#cc2f3c" stroke="#cc2f3c" stroke-width="0.45" textLength="54.2" lengthAdjust="spacingAndGlyphs">−0.15%</text>
<circle cx="1482.2" cy="507.8" r="3.6" fill="#089981"/>
<text x="1491.0" y="512.2" font-size="12.5" fill="#089981" textLength="72.0" lengthAdjust="spacingAndGlyphs">Market open</text>
<rect x="1473" y="529.5" width="332" height="39" rx="6" fill="#e9e4f5"/>
<path d="M1490.3 544.6L1486 549.3L1490 548.5L1486 552.7" fill="none" stroke="#7b3fe4" stroke-width="1.2" stroke-linecap="round" stroke-linejoin="round"/>
<text x="1501.0" y="545.2" font-size="12" fill="#131722" textLength="56.0" lengthAdjust="spacingAndGlyphs">1 hour ago</text>
<circle cx="1565.3" cy="541.2" r="1.3" fill="#9598a1"/>
<text x="1572.8" y="545.2" font-size="12" fill="#131722" textLength="174.2" lengthAdjust="spacingAndGlyphs">India’s silver imports up 129% on</text>
<text x="1501.0" y="561.4" font-size="12" fill="#131722" textLength="148.8" lengthAdjust="spacingAndGlyphs">prices rise, supply concerns</text>
<path d="M1788 544.5L1791.5 548.2L1788 552" fill="none" stroke="#131722" stroke-width="1.2"/>
<text x="1473.2" y="606.3" font-size="13.5" fill="#131722" font-weight="bold" textLength="57.5" lengthAdjust="spacingAndGlyphs">Seasonals</text>
<line x1="1523.5" y1="618" x2="1523.5" y2="756" stroke="#d1d4dc" stroke-dasharray="4 4"/>
<line x1="1602.5" y1="618" x2="1602.5" y2="756" stroke="#d1d4dc" stroke-dasharray="4 4"/>
<line x1="1681.5" y1="618" x2="1681.5" y2="756" stroke="#d1d4dc" stroke-dasharray="4 4"/>
<line x1="1759.5" y1="618" x2="1759.5" y2="756" stroke="#d1d4dc" stroke-dasharray="4 4"/>
<line x1="1473" y1="746.5" x2="1803" y2="746.5" stroke="#a8a6bb"/>
<polyline points="1473.35,747.27 1474.72,747.02 1476.09,747.58 1477.45,747.64 1478.69,747.33 1479.94,747.53 1481.18,747.27 1482.42,748.06 1483.66,747.90 1484.90,749.13 1486.15,748.32 1487.39,749.35 1488.63,748.76 1489.87,748.54 1491.11,748.63 1492.35,749.13 1493.60,749.45 1494.84,748.34 1496.08,748.01 1497.32,748.36 1498.56,747.73 1499.81,747.64 1500.97,748.30 1502.13,748.08 1503.30,749.22 1504.46,749.50 1505.71,750.64 1506.95,750.78 1508.19,751.36 1509.59,751.05 1510.98,750.06 1512.23,749.86 1513.47,748.58 1514.71,748.76 1516.08,748.99 1517.44,748.63 1518.81,748.38 1520.02,747.55 1521.23,747.27 1522.63,743.81 1524.02,741.68 1525.27,740.82 1526.51,738.91 1527.75,737.58 1528.99,737.39 1530.23,737.12 1531.48,736.09 1532.87,737.13 1534.27,737.58 1535.51,737.98 1536.75,737.06 1538.00,737.02 1539.39,736.97 1540.79,736.09 1542.19,735.08 1543.58,734.23 1544.98,733.44 1546.38,731.43 1547.62,730.91 1548.86,728.76 1550.10,728.26 1551.50,725.89 1552.90,724.54 1554.30,722.93 1555.69,722.12 1556.93,722.15 1558.18,720.78 1559.42,720.25 1560.66,720.24 1561.90,719.60 1563.14,719.69 1564.54,721.19 1565.94,722.68 1567.18,722.76 1568.42,722.96 1569.66,723.42 1570.91,724.53 1572.15,725.53 1573.39,726.40 1574.79,726.04 1576.18,724.54 1577.43,724.92 1578.67,725.39 1579.91,724.91 1581.31,724.01 1582.70,722.12 1584.10,722.52 1585.50,721.56 1586.74,720.31 1587.98,718.11 1589.23,717.09 1590.62,717.31 1592.02,716.53 1593.88,722.68 1595.28,723.05 1596.68,722.12 1598.07,723.15 1599.47,723.05 1600.71,722.83 1601.95,722.73 1603.20,722.12 1604.59,723.30 1605.99,725.28 1607.39,725.10 1608.79,723.98 1610.03,724.27 1611.27,724.05 1612.51,724.54 1613.91,723.65 1615.31,723.98 1616.70,723.54 1618.10,722.12 1619.50,723.73 1620.89,723.98 1622.29,723.87 1623.69,724.91 1624.93,724.83 1626.17,723.79 1627.41,723.42 1628.81,721.35 1630.21,720.25 1631.61,719.69 1633.00,719.69 1634.24,719.20 1635.49,718.48 1636.73,717.09 1637.97,714.83 1639.21,714.02 1640.45,712.24 1641.85,713.75 1643.25,716.53 1644.65,717.49 1646.04,717.83 1647.44,717.87 1648.84,718.39 1650.23,717.53 1651.63,715.60 1653.03,715.52 1654.43,714.11 1656.29,715.60 1658.15,718.39 1659.39,716.85 1660.64,715.98 1661.88,713.73 1663.27,712.54 1664.67,711.87 1666.07,709.88 1667.47,709.08 1668.71,709.22 1669.95,708.42 1671.19,709.08 1672.43,708.34 1673.68,708.33 1674.92,708.14 1676.16,708.61 1677.40,708.28 1678.64,709.08 1679.89,708.62 1681.13,709.96 1682.37,709.63 1683.61,709.19 1684.85,709.90 1686.10,709.08 1687.34,708.08 1688.58,705.80 1689.82,704.42 1691.06,703.74 1692.31,703.20 1693.55,702.56 1694.79,702.26 1696.03,701.70 1697.27,701.07 1698.51,699.78 1699.76,698.50 1701.00,696.97 1702.24,697.27 1703.48,696.36 1704.72,696.04 1705.97,696.25 1707.21,696.97 1708.45,696.97 1709.69,697.35 1710.93,698.18 1712.18,699.20 1713.57,698.75 1714.97,696.97 1716.21,696.07 1717.45,695.17 1718.70,694.17 1719.94,692.25 1721.18,691.57 1722.42,690.45 1723.66,690.25 1724.91,689.15 1726.15,689.52 1727.54,689.49 1728.94,689.14 1730.80,686.72 1732.20,688.30 1733.60,689.52 1734.81,689.37 1736.02,690.45 1737.14,692.49 1738.26,694.17 1739.65,697.39 1741.05,700.69 1742.45,702.81 1743.85,704.42 1745.24,701.88 1746.64,699.76 1748.04,697.72 1749.43,695.10 1750.74,692.31 1751.95,695.90 1753.16,698.83 1754.40,697.66 1755.64,697.22 1756.89,697.34 1758.13,697.77 1759.37,698.36 1760.61,697.90 1761.85,697.24 1763.09,697.22 1764.34,696.97 1765.45,694.77 1766.57,692.31 1767.78,694.39 1768.99,696.97 1770.39,696.78 1771.79,696.97 1773.65,701.07 1774.89,700.37 1776.14,700.01 1777.38,699.76 1778.62,699.90 1779.86,699.48 1781.10,699.76 1782.22,699.59 1783.34,700.14 1784.46,699.76" fill="none" stroke="#ff9800" stroke-width="1.1" stroke-linejoin="round"/>
<polyline points="1473.35,746.33 1474.72,745.88 1476.09,745.43 1477.45,744.47 1478.69,744.57 1479.94,744.47 1481.18,743.54 1482.57,743.04 1483.97,742.45 1485.37,740.37 1486.77,740.19 1488.16,739.81 1489.56,740.15 1490.96,739.42 1492.35,738.88 1493.60,738.82 1494.84,737.10 1496.08,737.02 1497.24,735.90 1498.41,734.52 1499.57,733.87 1500.74,732.73 1501.90,732.19 1503.07,730.75 1504.23,730.38 1505.39,730.13 1506.79,729.07 1508.19,728.64 1510.05,730.50 1511.29,730.15 1512.54,729.01 1513.78,727.70 1515.02,727.04 1516.26,727.75 1517.50,727.15 1518.75,728.38 1519.99,730.79 1521.23,732.36 1522.63,730.44 1524.02,729.57 1525.27,728.68 1526.51,729.72 1527.75,729.01 1529.15,729.35 1530.54,730.50 1531.94,727.77 1533.34,725.84 1534.58,725.09 1535.82,723.51 1537.06,721.56 1538.46,721.82 1539.86,722.68 1541.10,722.70 1542.34,721.49 1543.58,720.81 1544.98,719.20 1546.38,717.09 1547.62,716.18 1548.86,716.71 1550.10,715.60 1551.97,718.39 1553.08,721.92 1554.20,724.91 1556.07,716.53 1557.56,709.08 1558.95,709.26 1560.35,708.14 1562.21,701.62 1564.08,700.69 1565.94,696.97 1567.80,704.42 1569.66,701.62 1571.53,703.49 1573.39,702.56 1574.60,705.90 1575.81,708.14 1576.93,705.07 1578.05,702.56 1579.35,696.97 1580.38,700.03 1581.40,703.49 1582.52,704.42 1583.64,706.28 1584.75,708.11 1585.87,710.94 1587.08,709.40 1588.29,709.08 1589.69,706.47 1591.09,704.42 1592.49,702.89 1593.88,701.07 1595.28,701.30 1596.68,702.93 1598.54,704.79 1599.94,702.99 1601.33,700.69 1602.73,700.00 1604.13,699.76 1605.53,701.36 1606.92,703.49 1608.32,703.28 1609.72,702.18 1611.11,699.36 1612.51,696.59 1613.91,697.45 1615.31,698.83 1616.55,699.11 1617.79,699.74 1619.03,699.76 1620.43,699.79 1621.83,701.07 1623.04,704.34 1624.25,706.28 1625.83,703.29 1627.41,701.62 1628.81,702.44 1630.21,702.56 1631.61,703.50 1633.00,703.49 1634.24,702.01 1635.49,702.28 1636.73,701.07 1637.97,701.25 1639.21,701.92 1640.45,702.18 1641.62,700.19 1642.78,698.94 1643.95,697.82 1645.11,696.97 1646.51,700.21 1647.91,702.18 1649.15,703.00 1650.39,705.03 1651.63,705.91 1653.03,703.90 1654.43,700.69 1655.67,701.00 1656.91,699.85 1658.15,699.76 1660.01,698.46 1661.41,699.56 1662.81,701.07 1664.21,701.38 1665.60,701.62 1667.00,702.48 1668.40,702.56 1669.80,701.08 1671.19,700.69 1672.43,700.42 1673.68,699.87 1674.92,698.83 1676.16,697.78 1677.40,695.08 1678.64,694.17 1680.04,692.47 1681.44,689.52 1682.68,687.08 1683.92,685.57 1685.16,683.93 1686.41,683.46 1687.65,683.27 1688.89,682.06 1690.13,681.22 1691.37,681.42 1692.62,680.20 1694.01,681.20 1695.41,682.06 1696.81,679.19 1698.20,676.85 1699.60,675.94 1701.00,675.54 1702.24,673.23 1703.48,671.23 1704.72,669.96 1706.12,668.53 1707.52,668.09 1708.92,665.56 1710.31,662.50 1712.18,659.71 1714.04,657.85 1715.44,654.82 1716.83,650.39 1718.70,638.85 1720.56,642.94 1722.42,636.42 1723.35,651.33 1724.75,651.32 1726.15,652.26 1727.39,655.35 1728.63,660.39 1729.87,663.44 1731.74,658.78 1733.13,660.69 1734.53,662.50 1735.77,659.89 1737.01,657.17 1738.26,655.05 1739.50,652.70 1740.74,650.54 1741.98,647.60 1743.85,655.05 1745.24,654.99 1746.64,655.05 1748.04,654.48 1749.43,654.12 1750.83,652.10 1752.23,651.33 1753.47,650.05 1754.71,646.95 1755.95,645.74 1757.35,645.26 1758.75,644.81 1759.99,645.90 1761.23,645.53 1762.47,646.67 1763.87,646.99 1765.27,646.67 1766.67,644.04 1768.06,640.15 1769.30,639.90 1770.55,639.68 1771.79,638.85 1773.03,636.87 1774.27,635.90 1775.51,634.56 1776.88,630.96 1778.25,628.83 1779.61,625.25 1781.48,633.63 1782.97,637.35 1784.46,638.29" fill="none" stroke="#22c55e" stroke-width="1.1" stroke-linejoin="round"/>
<polyline points="1473.73,746.33 1474.47,740.19 1476.52,738.88 1478.94,738.32 1481.18,735.72 1483.97,734.23" fill="none" stroke="#3179f5" stroke-width="3.2" stroke-linecap="round" stroke-linejoin="round"/>
<circle cx="1484.5" cy="734.2" r="3.8" fill="#3179f5"/>
<text x="1473.0" y="778.0" font-size="12" fill="#131722" textLength="19.0" lengthAdjust="spacingAndGlyphs">Jan</text>
<text x="1565.5" y="778.0" font-size="12" fill="#131722" textLength="20.5" lengthAdjust="spacingAndGlyphs">May</text>
<text x="1672.0" y="778.0" font-size="12" fill="#131722" textLength="18.5" lengthAdjust="spacingAndGlyphs">Sep</text>
<circle cx="1571.0" cy="804" r="3.5" fill="#3179f5"/>
<text x="1579.7" y="808.3" font-size="12" fill="#6a6d78" textLength="24.3" lengthAdjust="spacingAndGlyphs">2026</text>
<circle cx="1624.0" cy="804" r="3.5" fill="#22c55e"/>
<text x="1632.7" y="808.3" font-size="12" fill="#6a6d78" textLength="24.3" lengthAdjust="spacingAndGlyphs">2025</text>
<circle cx="1677.0" cy="804" r="3.5" fill="#ff9800"/>
<text x="1685.7" y="808.3" font-size="12" fill="#6a6d78" textLength="24.3" lengthAdjust="spacingAndGlyphs">2024</text>
<path d="M1455 789H1459A3 3 0 0 1 1462 792V810.5A3 3 0 0 1 1459 813.5H1455Z" fill="#fff" stroke="#e0e3eb"/>
<path d="M1457.5 798.5L1459.5 801.2L1457.5 804" fill="none" stroke="#b2b5be" stroke-width="1"/>
<rect x="1589" y="828" width="101" height="10" rx="5" fill="#f0f0f0"/>
</svg>
</body></html>
